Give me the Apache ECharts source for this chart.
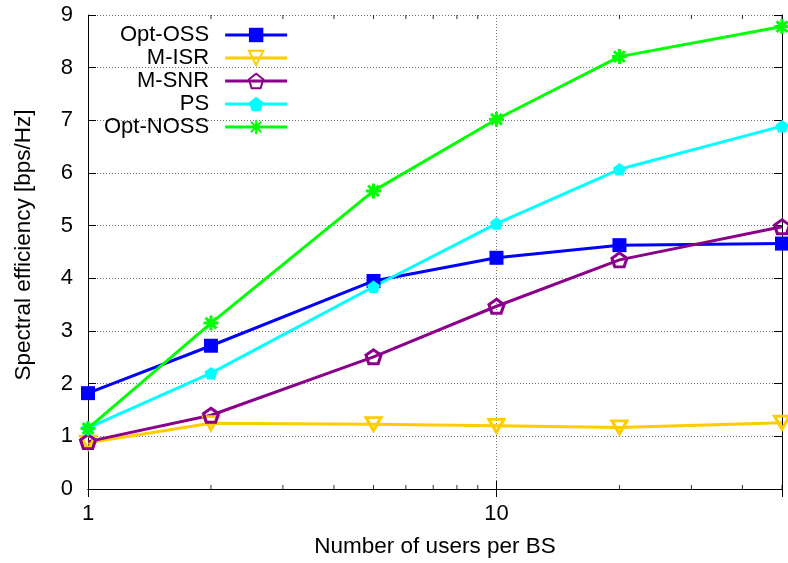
<!DOCTYPE html>
<html>
<head>
<meta charset="utf-8">
<script src="https://cdn.jsdelivr.net/npm/echarts@6/dist/echarts.min.js"></script>
<style>
html,body{margin:0;padding:0;background:#fff;}
#chart{width:788px;height:563px;}
</style>
</head>
<body>
<div id="chart"></div>
<script>
// ---- data ----
var users = [1, 2, 5, 10, 20, 50];
var optOSS  = [1.82, 2.72, 3.95, 4.39, 4.63, 4.66];
var mISR    = [0.88, 1.25, 1.23, 1.20, 1.17, 1.26];
var mSNR    = [0.90, 1.40, 2.51, 3.47, 4.35, 4.98];
var ps      = [1.16, 2.20, 3.84, 5.04, 6.07, 6.89];
var optNOSS = [1.15, 3.15, 5.66, 7.02, 8.21, 8.78];
var xTickLabels = [1, 10];
var xMinorTicks = [2, 3, 4, 5, 6, 7, 8, 9, 20, 30, 40, 50];
var yMin = 0, yMax = 9, yStep = 1;
var xMin = 1, xMax = 50;

function pairs(xs, ys) { return xs.map(function (x, i) { return [x, ys[i]]; }); }

var FONT = 'Liberation Sans';
var FS = 22;
var FS_NAME = 22.5;

var pentagon = 'path://M0,-1 L0.951,-0.309 L0.588,0.809 L-0.588,0.809 L-0.951,-0.309 Z';
var invTri = 'path://M-1,-0.866 L1,-0.866 L0,0.866 Z';
var asterisk = 'path://M-1,0 L1,0 M0,-1 L0,1 M-0.72,-0.72 L0.72,0.72 M-0.72,0.72 L0.72,-0.72';

function lineSeries(name, ys, color, symbol, size, filled, bw) {
  return {
    name: name, type: 'line', data: pairs(users, ys),
    symbol: symbol, symbolSize: size, showAllSymbol: true,
    clip: false,
    lineStyle: { color: color, width: 3 },
    itemStyle: filled ? { color: color } : { color: 'rgba(255,255,255,0)', borderColor: color, borderWidth: bw || 3 },
    emphasis: { disabled: true },
    animation: false
  };
}

var chart = echarts.init(document.getElementById('chart'));
chart.setOption({
  animation: false,
  backgroundColor: '#fff',
  textStyle: { fontFamily: FONT },
  grid: { left: 88, right: 6, top: 15, bottom: 74, containLabel: false },
  legend: {
    orient: 'vertical', align: 'right',
    left: 99, top: 19,
    itemWidth: 62, itemHeight: 18, itemGap: 1,
    lineStyle: { width: 3 },
    textStyle: { fontFamily: FONT, fontSize: FS, color: '#000', padding: [0, 11, 0, 0] },
    data: ['Opt-OSS', 'M-ISR', 'M-SNR', 'PS', 'Opt-NOSS'],
    selectedMode: false
  },
  xAxis: [{
    type: 'log', logBase: 10, min: xMin, max: xMax,
    name: 'Number of users per BS', nameLocation: 'middle', nameGap: 46,
    nameTextStyle: { fontFamily: FONT, fontSize: FS_NAME, color: '#000' },
    axisLine: { show: true, lineStyle: { color: '#000', width: 1 } },
    axisTick: { show: true, inside: true, length: 8, lineStyle: { color: '#000' } },
    axisLabel: {
      fontFamily: FONT, fontSize: FS, color: '#000', margin: 14,
      formatter: function (v) {
        var r = Math.round(v);
        return (Math.abs(v - r) < 1e-6 && xTickLabels.indexOf(r) >= 0) ? String(r) : '';
      }
    },
    splitLine: { show: true, lineStyle: { color: '#777', type: [1, 2], width: 1 } }
  }, {
    type: 'log', logBase: 10, min: xMin, max: xMax, position: 'top',
    axisLine: { show: true, lineStyle: { color: '#000', width: 1 } },
    axisTick: { show: true, inside: true, length: 8, lineStyle: { color: '#000' } },
    axisLabel: { show: false },
    splitLine: { show: false }
  }],
  yAxis: [{
    type: 'value', min: yMin, max: yMax, interval: yStep,
    name: 'Spectral efficiency [bps/Hz]', nameLocation: 'middle', nameGap: 53, nameRotate: 90,
    nameTextStyle: { fontFamily: FONT, fontSize: FS_NAME, color: '#000', padding: [0, 0, 0, 14] },
    axisLine: { show: true, lineStyle: { color: '#000', width: 1 } },
    axisTick: { show: true, inside: true, length: 8, lineStyle: { color: '#000' } },
    axisLabel: { fontFamily: FONT, fontSize: FS, color: '#000', margin: 15 },
    splitLine: { show: true, lineStyle: { color: '#777', type: [1, 2], width: 1 } }
  }, {
    type: 'value', min: yMin, max: yMax, interval: yStep, position: 'right',
    axisLine: { show: true, lineStyle: { color: '#000', width: 1 } },
    axisTick: { show: true, inside: true, length: 8, lineStyle: { color: '#000' } },
    axisLabel: { show: false },
    splitLine: { show: false }
  }],
  series: [
    lineSeries('Opt-OSS', optOSS, '#0000ff', 'rect', 14, true),
    lineSeries('M-ISR', mISR, '#ffcc00', invTri, [15, 13], false, 3),
    lineSeries('M-SNR', mSNR, '#8b008b', pentagon, [15, 14], false, 3),
    lineSeries('PS', ps, '#00ffff', pentagon, [13, 12.5], true),
    lineSeries('Opt-NOSS', optNOSS, '#00ff00', asterisk, 15, false, 3),
    {
      type: 'scatter', silent: true, clip: false, z: 1,
      data: xMinorTicks.map(function (x) { return [x, yMin]; }),
      symbol: 'rect', symbolSize: [1, 4], symbolOffset: [0, -2],
      itemStyle: { color: '#000' }, emphasis: { disabled: true }, tooltip: { show: false }
    },
    {
      type: 'scatter', silent: true, clip: false, z: 1,
      data: xMinorTicks.map(function (x) { return [x, yMax]; }),
      symbol: 'rect', symbolSize: [1, 4], symbolOffset: [0, 2],
      itemStyle: { color: '#000' }, emphasis: { disabled: true }, tooltip: { show: false }
    }
  ]
});
</script>
</body>
</html>
